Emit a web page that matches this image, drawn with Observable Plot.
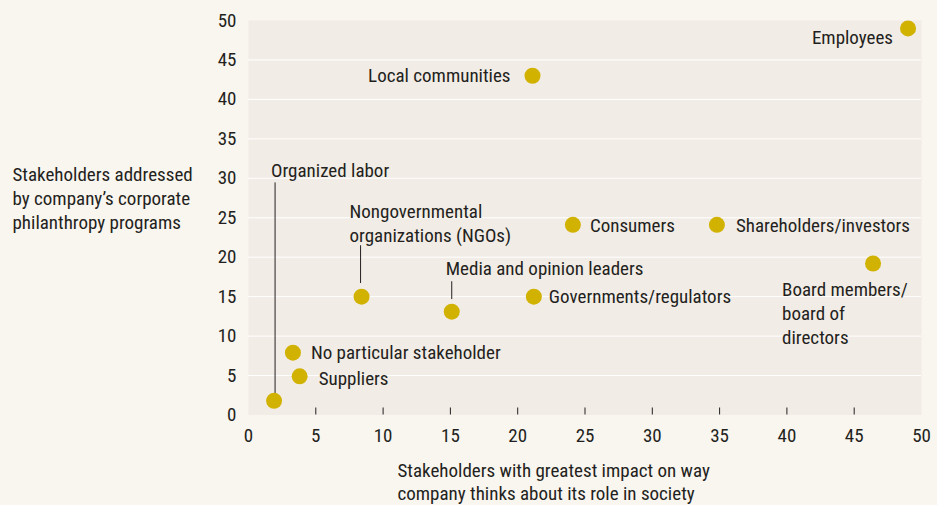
<!DOCTYPE html>
<html>
<head>
<meta charset="utf-8">
<script src="https://cdn.jsdelivr.net/npm/d3@7"></script>
<script src="https://cdn.jsdelivr.net/npm/@observablehq/plot@0.6"></script>
<style>
  html, body { margin: 0; padding: 0; background: #f9f5ef; }
</style>
</head>
<body>
<div id="chart"></div>
<script>
// ---- data ----
const names = [
  "Employees", "Local communities", "Consumers", "Shareholders/investors",
  "Board members/\nboard of\ndirectors", "Governments/regulators",
  "Media and opinion leaders", "Nongovernmental\norganizations (NGOs)",
  "No particular stakeholder", "Suppliers", "Organized labor"
];
const impact    = [49, 21.1, 24.1, 34.8, 46.4, 21.2, 15.1, 8.4, 3.3, 3.8, 1.9];
const addressed = [49, 43.0, 24.1, 24.1, 19.2, 15.0, 13.1, 15.0, 7.9, 4.9, 1.8];
const xTicks = [0, 5, 10, 15, 20, 25, 30, 35, 40, 45, 50];
const yTicks = [0, 5, 10, 15, 20, 25, 30, 35, 40, 45, 50];
const gridTicks = [5, 10, 15, 20, 25, 30, 35, 40, 45];
const xLabel = "Stakeholders with greatest impact on way\ncompany thinks about its role in society";
const yLabel = "Stakeholders addressed\nby company\u2019s corporate\nphilanthropy programs";

// ---- layout (label placement, pixels) ----
const labelLayout = {
  "Employees": {anchor: "end", dx: -15, dy: 8},
  "Local communities": {anchor: "end", dx: -22, dy: -1},
  "Consumers": {anchor: "start", dx: 17, dy: -1},
  "Shareholders/investors": {anchor: "start", dx: 19, dy: -1},
  "Board members/\nboard of\ndirectors": {anchor: "start", dx: -91, dy: 49},
  "Governments/regulators": {anchor: "start", dx: 15, dy: -1},
  "Media and opinion leaders": {anchor: "start", dx: -6, dy: -44},
  "Nongovernmental\norganizations (NGOs)": {anchor: "start", dx: -12, dy: -74},
  "No particular stakeholder": {anchor: "start", dx: 18, dy: -1},
  "Suppliers": {anchor: "start", dx: 19, dy: 1},
  "Organized labor": {anchor: "start", dx: -3, dy: -231}
};
const leaders = [
  {name: "Organized labor", dx: 1, from: 8, to: 218},
  {name: "Nongovernmental\norganizations (NGOs)", dx: -1, from: 14, to: 51},
  {name: "Media and opinion leaders", dx: 0, from: 13, to: 30}
];

const points = names.map((name, i) => ({name, x: impact[i], y: addressed[i], ...labelLayout[name]}));

const ink = "#231f20";
const dotColor = "#d1b200";
const fs = 19;
const lh = 24 / fs;
const lineShape = {draw(context, l) { context.moveTo(0, 0); context.lineTo(0, -l); }};
const font = "'Liberation Sans Narrow', 'Roboto Condensed', 'DejaVu Sans Condensed', sans-serif";

const chart = Plot.plot({
  width: 937,
  height: 505,
  marginLeft: 248,
  marginRight: 16,
  marginTop: 20,
  marginBottom: 90.5,
  style: {
    fontFamily: font,
    fontSize: fs + "px",
    color: ink,
    background: "#f9f5ef",
    overflow: "visible"
  },
  x: {domain: [0, 50]},
  y: {domain: [0, 50]},
  marks: [
    Plot.frame({fill: "#f2ece6", stroke: null}),
    Plot.gridY(gridTicks, {stroke: "#ffffff", strokeOpacity: 1, strokeWidth: 1}),
    Plot.axisX(gridTicks, {tickSize: 7, dy: -7, tickFormat: () => "", label: null, stroke: ink, strokeWidth: 1}),
    Plot.axisX(xTicks, {tickSize: 0, tickPadding: 13, fontSize: fs, label: null, fill: ink}),
    Plot.axisY(yTicks, {tickSize: 0, tickPadding: 12, fontSize: fs, label: null, fill: ink}),
    ...leaders.map(l => Plot.vector(points.filter(d => d.name === l.name), {
      x: "x", y: "y", length: l.to - l.from, rotate: 0, anchor: "start",
      shape: lineShape, dy: -l.from, dx: l.dx, stroke: ink, strokeWidth: 1
    })),
    Plot.dot(points, {x: "x", y: "y", r: 8, fill: dotColor, stroke: null}),
    ...points.map(d => Plot.text([d], {
      x: "x", y: "y", text: "name", textAnchor: d.anchor,
      dx: d.dx, dy: d.dy, fill: ink, fontSize: fs, lineHeight: lh
    })),
    Plot.text([yLabel], {frameAnchor: "top-left", text: d => d, textAnchor: "start", lineAnchor: "middle",
      dx: -236, dy: 177, fill: ink, fontSize: fs, lineHeight: lh}),
    Plot.text([xLabel], {frameAnchor: "bottom-left", text: d => d, textAnchor: "start", lineAnchor: "middle",
      dx: 149, dy: 66, fill: ink, fontSize: fs, lineHeight: 23 / fs})
  ]
});
document.getElementById("chart").appendChild(chart);
</script>
</body>
</html>
